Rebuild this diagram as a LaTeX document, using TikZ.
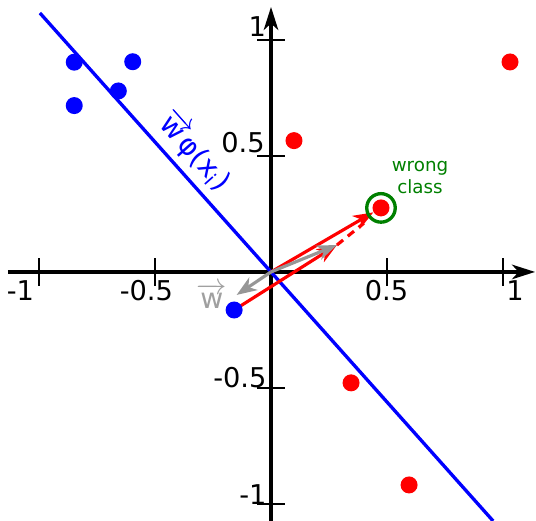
\documentclass[tikz,border=0pt]{standalone}
\usepackage{fontspec}
\setmainfont{DejaVu Sans}
\usetikzlibrary{arrows.meta}
\definecolor{pBlue}{RGB}{0,0,255}
\definecolor{pRed}{RGB}{255,0,0}
\definecolor{pGreen}{RGB}{0,128,0}
\definecolor{pGray}{RGB}{150,150,150}
\definecolor{pGrayLbl}{RGB}{160,160,160}
\tikzset{
  axis/.style={-{Stealth[length=4.6mm,width=2.9mm,inset=1.3mm]}, draw=black, line width=1.9pt},
  tickmark/.style={draw=black, line width=1pt},
  ticklbl/.style={inner sep=0pt, font=\fontsize{15.5}{18}\selectfont},
  sep/.style={draw=pBlue, line width=1.9pt},
  seplbl/.style={inner sep=0pt, text=pBlue, font=\fontsize{16}{18}\selectfont},
  sample/.style={circle, inner sep=0pt, minimum size=3.4mm},
  bluept/.style={sample, fill=pBlue},
  redpt/.style={sample, fill=pRed},
  redvec/.style={-{Stealth[length=4mm,width=3mm,inset=1.2mm]}, draw=pRed, line width=1.8pt},
  redvecd/.style={draw=pRed, line width=1.8pt, dash pattern=on 1.6mm off 1.2mm},
  grayvec/.style={-{Stealth[length=4mm,width=3mm,inset=1.2mm]}, draw=pGray, line width=1.8pt},
  wlbl/.style={inner sep=0pt, text=pGrayLbl, font=\fontsize{16}{18}\selectfont},
  ring/.style={circle, draw=pGreen, line width=1.9pt, minimum size=5.7mm, inner sep=0pt},
  ringlbl/.style={align=center, text=pGreen, inner sep=0pt, font=\fontsize{10.4}{12.5}\selectfont},
}

\begin{document}
\begin{tikzpicture}[x=4.64cm, y=4.64cm]
  \useasboundingbox (-1.168,-1.073) rectangle (1.142,1.172);

  %====================== AXES ======================
  \coordinate (o) at (0,0);
  \coordinate (xs) at (-1.134,0);
  \coordinate (xe) at (1.138,0);
  \coordinate (ys) at (0,-1.12);
  \coordinate (ye) at (0,1.142);
  \draw[axis] (xs) -- (xe);
  \draw[axis] (ys) -- (ye);

  % ticks on x
  \draw[tickmark] (-1,-0.06) -- (-1,0.06);
  \draw[tickmark] (-0.5,-0.06) -- (-0.5,0.06);
  \draw[tickmark] (0.5,-0.06) -- (0.5,0.06);
  \draw[tickmark] (1,-0.06) -- (1,0.06);
  % ticks on y
  \draw[tickmark] (-0.06,-1) -- (0.06,-1);
  \draw[tickmark] (-0.06,-0.5) -- (0.06,-0.5);
  \draw[tickmark] (-0.06,0.5) -- (0.06,0.5);
  \draw[tickmark] (-0.06,1) -- (0.06,1);

  \node[ticklbl, anchor=base] (xm1) at (-1.080,-0.121) {-1};
  \node[ticklbl, anchor=base] (xm05) at (-0.537,-0.121) {-0.5};
  \node[ticklbl, anchor=base] (xp05) at (0.498,-0.121) {0.5};
  \node[ticklbl, anchor=base] (xp1) at (1.052,-0.121) {1};
  \node[ticklbl, anchor=base east] (yp1) at (-0.02,1.013) {1};
  \node[ticklbl, anchor=base east] (yp05) at (-0.026,0.513) {0.5};
  \node[ticklbl, anchor=base east] (ym05) at (-0.018,-0.496) {-0.5};
  \node[ticklbl, anchor=base east] (ym1) at (-0.018,-1.004) {-1};

  %====================== SEPARATOR ======================
  \coordinate (sepA) at (-0.996,1.116);
  \coordinate (sepB) at (0.957,-1.073);
  \draw[sep] (sepA) -- (sepB);
  \node[seplbl, rotate=-48.3] (wphi) at (-0.330,0.520)
    {$\overrightarrow{\mbox{w}}$φ(x\textsubscript{i})};

  %====================== SAMPLES ======================
  \node[bluept] (b1) at (-0.848,0.904) {};
  \node[bluept] (b2) at (-0.596,0.906) {};
  \node[bluept] (b3) at (-0.658,0.780) {};
  \node[bluept] (b4) at (-0.848,0.717) {};
  \node[redpt] (r1) at (1.030,0.905) {};
  \node[redpt] (r2) at (0.099,0.566) {};
  \node[redpt] (r3) at (0.474,0.276) {};
  \node[redpt] (r4) at (0.345,-0.478) {};
  \node[redpt] (r5) at (0.595,-0.918) {};

  %====================== UPDATE ======================
  \coordinate (wold) at (-0.148,-0.099);
  \coordinate (wnew) at (0.284,0.116);
  \coordinate (dashend) at (0.400,0.210);
  \draw[redvec] (o) -- (r3);
  \draw[redvec] (-0.159,-0.164) -- (wnew);
  \draw[redvecd] (wnew) -- (dashend);
  \draw[grayvec] (o) -- (wold);
  \draw[grayvec] (o) -- (wnew);
  \node[bluept] (b5) at (-0.159,-0.164) {};
  \node[wlbl] (wname) at (-0.255,-0.103) {$\overrightarrow{\mbox{w}}$};

  % misclassified sample
  \node[ring] (wrong) at (r3) {};
  \node[ringlbl] (wronglbl) at (0.642,0.405) {wrong\\class};

\end{tikzpicture}
\end{document}
